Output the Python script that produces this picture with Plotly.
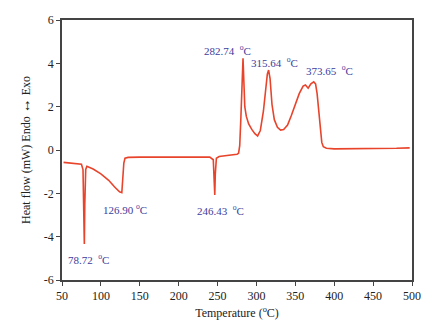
import plotly.graph_objects as go

temperature = [52, 60, 70, 75, 77, 78.2, 78.72, 79.3, 80.5, 82, 90, 100, 110, 118, 124, 126.9, 128, 129.5,
               131, 135, 150, 200, 240, 244.5, 245.8, 246.43, 247.1, 248.5, 252, 260, 270, 275, 277, 278.5,
               280, 281.5, 282.74, 283.8, 285, 287, 290, 294, 298, 301.5, 305, 309, 312, 314, 315.64, 317.5,
               320, 323, 327, 331, 335, 340, 345, 350, 355, 360, 363, 366.5, 370, 373.65, 376, 378, 380, 382,
               384, 386, 390, 400, 420, 450, 480, 497]
heat_flow = [-0.57, -0.6, -0.63, -0.66, -0.9, -2.8, -4.34, -2.5, -0.9, -0.75, -0.88, -1.1, -1.4, -1.72, -1.93,
             -1.97, -1.5, -0.6, -0.38, -0.34, -0.33, -0.33, -0.33, -0.45, -1.2, -2.08, -1.1, -0.38, -0.3, -0.27,
             -0.23, -0.2, -0.15, 0.2, 1.5, 3.3, 4.23, 3.2, 2.0, 1.55, 1.2, 0.95, 0.75, 0.65, 0.9, 1.8, 2.9, 3.5,
             3.69, 3.3, 2.1, 1.4, 1.05, 0.92, 0.95, 1.15, 1.6, 2.15, 2.6, 2.95, 3.0, 2.85, 3.05, 3.15, 3.05, 2.6,
             1.8, 0.9, 0.35, 0.15, 0.08, 0.05, 0.05, 0.06, 0.08, 0.1]

peak_labels = ["78.72  <sup>o</sup>C", "126.90 <sup>o</sup>C", "246.43  <sup>o</sup>C",
               "282.74  <sup>o</sup>C", "315.64  <sup>o</sup>C", "373.65  <sup>o</sup>C"]
label_x = [84.7, 131, 254.4, 263.4, 322.6, 393.3]
label_y = [-5.04, -2.74, -2.77, 4.62, 4.05, 3.69]

x_ticks = [50, 100, 150, 200, 250, 300, 350, 400, 450, 500]
y_ticks = [-6, -4, -2, 0, 2, 4, 6]

serif = "Liberation Serif, Times New Roman, serif"

fig = go.Figure()
fig.add_trace(go.Scatter(x=temperature, y=heat_flow, mode="lines",
                         line=dict(color="#e8442c", width=1.6), showlegend=False))

for t, x, y in zip(peak_labels, label_x, label_y):
    fig.add_annotation(x=x, y=y, text=t, showarrow=False,
                       font=dict(family=serif, size=11, color="#3c3c9c"))

axis_common = dict(showgrid=False, zeroline=False, showline=True, linecolor="#444444", linewidth=1.5,
                   mirror=True, ticks="outside", ticklen=4, tickwidth=1.2, tickcolor="#444444",
                   automargin=False,
                   tickfont=dict(family=serif, size=12, color="#222222"))

fig.update_xaxes(range=[50, 500], tickvals=x_ticks, ticktext=[str(v) for v in x_ticks],
                 title=dict(text="Temperature (<sup>o</sup>C)", font=dict(family=serif, size=12, color="#222222"),
                            standoff=6),
                 **axis_common)
fig.update_yaxes(range=[-6, 6], tickvals=y_ticks, ticktext=[str(v) for v in y_ticks],
                 title=dict(text="Heat flow (mW) Endo <span style='font-size:15px'><b>↔</b></span> Exo",
                            font=dict(family=serif, size=12, color="#222222"),
                            standoff=11),
                 **axis_common)

# page body has an 8px default margin, so the figure is offset by 8px
fig.update_layout(width=420, height=312, margin=dict(l=54, r=16, t=12, b=40),
                  plot_bgcolor="white", paper_bgcolor="white")

fig.write_html("out.html")
